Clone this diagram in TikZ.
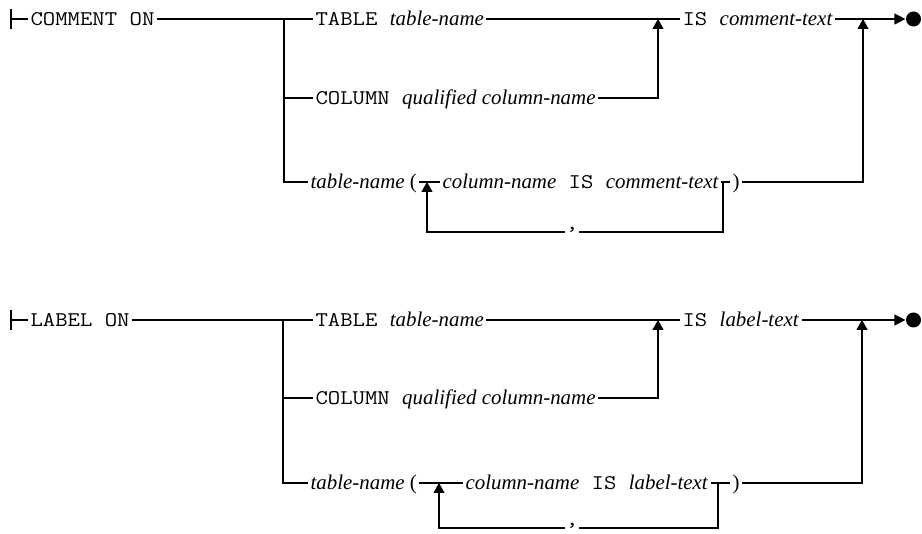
\documentclass[tikz,border=0pt]{standalone}
\usepackage{fontspec}
\setmainfont{Liberation Serif}
\setmonofont[FakeStretch=1.15]{Latin Modern Mono}
\usetikzlibrary{arrows.meta, positioning}

\begin{document}
\begin{tikzpicture}[
  x=1pt, y=-1pt, line width=1.2pt,
  kw/.style={inner xsep=2pt, inner ysep=0pt, text height=18pt, text depth=4pt, anchor=west, font=\fontsize{20.9}{24}\selectfont},
  sepnode/.style={kw, inner xsep=0pt, text height=2pt, text depth=6pt, anchor=center},
  up/.style={-{Triangle[length=10pt, width=11pt]}},
  enddot/.style={circle, fill, inner sep=0pt, minimum size=15pt}
]
  \useasboundingbox (0,0) rectangle (922,534);

  % COMMENT ON
  \coordinate (cstart) at (11,19);
  \node[kw] (ckey) at (28,19) {\texttt{COMMENT ON}};
  \coordinate (cj1) at (284,19);
  \node[kw] (ctable) at (313,19) {\texttt{TABLE }\textit{table-name}};
  \coordinate (cup1) at (658,19);
  \node[kw] (cis) at (680,19) {\texttt{IS }\textit{comment-text}};
  \coordinate (cup2) at (863,19);
  \node[enddot] (cdot) at (913.5,19) {};
  \node[kw] (ccol) at (313,98) {\texttt{COLUMN }\textit{qualified column-name}};
  \node[kw] (ctn) at (308,182) {\textit{table-name} (};
  \coordinate (cloop) at (427,182);
  \node[kw] (ccn) at (440,182) {\textit{column-name}\texttt{ IS }\textit{comment-text}};
  \coordinate (cret) at (723,182);
  \node[kw] (crp) at (730,182) {)};
  \node[sepnode] (ccomma) at (572,232) {\texttt{,}};

  \draw ([yshift=10pt]cstart) -- ([yshift=-10pt]cstart);
  \draw (cstart) -- (ckey.west);
  \draw (ckey.east) -- (cj1) -- (ctable.west);
  \draw (ctable.east) -- (cis.west);
  \draw[-{Triangle[length=11pt, width=11pt]}] (cis.east) -- (cdot.west);
  \draw (cj1) |- (ccol.west);
  \draw (cj1) |- (ctn.west);
  \draw[up] (ccol.east) -| (cup1);
  \draw (ctn.east) -- (ccn.west);
  \draw (ccn.east) -- (crp.west);
  \draw[up] (crp.east) -| (cup2);
  \draw (cret) |- (ccomma.east);
  \draw[up] (ccomma.west) -| (cloop);

  % LABEL ON
  \coordinate (lstart) at (11,320);
  \node[kw] (lkey) at (28,320) {\texttt{LABEL ON}};
  \coordinate (lj1) at (283,320);
  \node[kw] (ltable) at (313,320) {\texttt{TABLE }\textit{table-name}};
  \coordinate (lup1) at (658,320);
  \node[kw] (lis) at (680,320) {\texttt{IS }\textit{label-text}};
  \coordinate (lup2) at (862,320);
  \node[enddot] (ldot) at (913.5,320) {};
  \node[kw] (lcol) at (313,398) {\texttt{COLUMN }\textit{qualified column-name}};
  \node[kw] (ltn) at (308,483) {\textit{table-name} (};
  \coordinate (lloop) at (439,483);
  \node[kw] (lcn) at (463,483) {\textit{column-name}\texttt{ IS }\textit{label-text}};
  \coordinate (lret) at (718,483);
  \node[kw] (lrp) at (730,483) {)};
  \node[sepnode] (lcomma) at (572,528) {\texttt{,}};

  \draw ([yshift=10pt]lstart) -- ([yshift=-10pt]lstart);
  \draw (lstart) -- (lkey.west);
  \draw (lkey.east) -- (lj1) -- (ltable.west);
  \draw (ltable.east) -- (lis.west);
  \draw[-{Triangle[length=11pt, width=11pt]}] (lis.east) -- (ldot.west);
  \draw (lj1) |- (lcol.west);
  \draw (lj1) |- (ltn.west);
  \draw[up] (lcol.east) -| (lup1);
  \draw (ltn.east) -- (lcn.west);
  \draw (lcn.east) -- (lrp.west);
  \draw[up] (lrp.east) -| (lup2);
  \draw (lret) |- (lcomma.east);
  \draw[up] (lcomma.west) -| (lloop);
\end{tikzpicture}
\end{document}
